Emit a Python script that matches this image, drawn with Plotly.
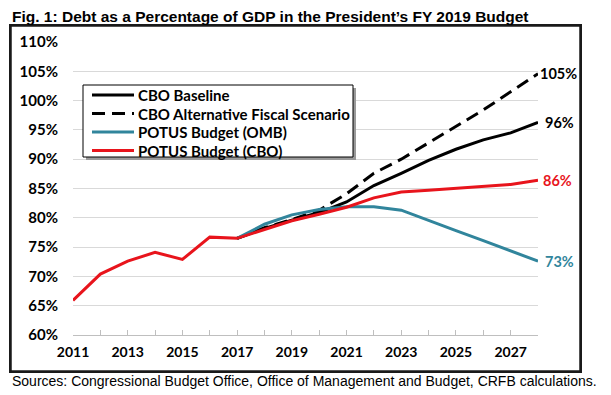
import plotly.graph_objects as go

years_hist = [2011, 2012, 2013, 2014, 2015, 2016, 2017]
years_proj = [2017, 2018, 2019, 2020, 2021, 2022, 2023, 2024, 2025, 2026, 2027, 2028]

hist = [65.9, 70.4, 72.6, 74.1, 72.9, 76.7, 76.5]
cbo_baseline = [76.5, 78.2, 79.6, 80.9, 82.7, 85.5, 87.6, 89.8, 91.7, 93.3, 94.5, 96.3]
cbo_alt = [76.5, 78.3, 79.7, 81.3, 84.1, 87.6, 90.0, 92.8, 95.6, 98.4, 101.5, 104.6]
potus_omb = [76.5, 78.9, 80.5, 81.4, 81.9, 81.9, 81.3, 79.5, 77.8, 76.1, 74.4, 72.6]
potus_cbo_proj = [78.0, 79.5, 80.6, 81.8, 83.4, 84.4, 84.7, 85.0, 85.3, 85.7, 86.4]

series_names = ["CBO Baseline", "CBO Alternative Fiscal Scenario", "POTUS Budget (OMB)", "POTUS Budget (CBO)"]
end_labels = ["105%", "96%", "86%", "73%"]

y_ticks = [60, 65, 70, 75, 80, 85, 90, 95, 100, 105, 110]
y_ticktext = [f"{v}%" for v in y_ticks]
x_ticks = [2011, 2013, 2015, 2017, 2019, 2021, 2023, 2025, 2027]

BLACK = "#000000"
TEAL = "#31859C"
RED = "#E8141C"
FONT = "Lato"
DASH = "13px,7px"

colors = [BLACK, BLACK, TEAL, RED]
dashes = ["solid", DASH, "solid", "solid"]

fig = go.Figure()
xs = [years_proj, years_proj, years_proj, years_hist + years_proj[1:]]
ys = [cbo_baseline, cbo_alt, potus_omb, hist + potus_cbo_proj]
for name, x, y, c, d in zip(series_names, xs, ys, colors, dashes):
    fig.add_trace(go.Scatter(x=x, y=y, mode="lines", name=name, showlegend=False,
                             line=dict(color=c, width=3, dash=d)))
# empty trace that carries the outer chart frame (second, full-size subplot)
fig.add_trace(go.Scatter(x=[None], y=[None], xaxis="x2", yaxis="y2", showlegend=False,
                         hoverinfo="skip", mode="lines"))

# The page has an 8px body margin; coordinates below are window pixels.
OFF = 8
FW, FH = 611 - OFF, 395 - OFF
# frame (paper area) in window px
FL, FR, FT, FB = 11, 580, 26, 371
# plot area in window px
L, R, T, B = 73, 538, 42, 335
PW, PH = FR - FL, FB - FT
px = lambda x: (x - FL) / PW
py = lambda y: (FB - y) / PH

FRAME = "#1a1a1a"
shapes = [
    # outer frame
    dict(type="rect", xref="paper", yref="paper", x0=0, x1=1, y0=0, y1=1,
         line=dict(color=FRAME, width=1.5), fillcolor="rgba(0,0,0,0)", layer="above"),
    # legend shadow + box
    dict(type="rect", xref="paper", yref="paper", x0=px(86), x1=px(356), y0=py(160), y1=py(88),
         line=dict(width=0), fillcolor="#9a9a9a", layer="above"),
    dict(type="rect", xref="paper", yref="paper", x0=px(83), x1=px(353), y0=py(157), y1=py(85),
         line=dict(color="black", width=1), fillcolor="white", layer="above"),
]

annotations = [
    dict(text="Fig. 1: Debt as a Percentage of GDP in the President\u2019s FY 2019 Budget",
         xref="paper", yref="paper", x=px(10), y=py(16), xanchor="left", yanchor="middle",
         showarrow=False, font=dict(family="Liberation Sans", size=15.5, color="black", weight="bold")),
    dict(text="Sources: Congressional Budget Office, Office of Management and Budget, CRFB calculations.",
         xref="paper", yref="paper", x=px(10), y=py(381), xanchor="left", yanchor="middle",
         showarrow=False, font=dict(family="Liberation Sans", size=14, color="black")),
]

# legend (drawn manually to match the reference spacing)
rows = [95, 113.5, 132, 150.5]
for name, c, d, r in zip(series_names, colors, dashes, rows):
    shapes.append(dict(type="line", xref="paper", yref="paper", x0=px(92), x1=px(134), y0=py(r), y1=py(r),
                       line=dict(color=c, width=3, dash=d), layer="above"))
    annotations.append(dict(text=name, xref="paper", yref="paper", x=px(136), y=py(r), xanchor="left",
                            yanchor="middle", showarrow=False,
                            font=dict(family=FONT, size=15, color="black", weight="bold")))

end_vals = [cbo_alt[-1], cbo_baseline[-1], potus_cbo_proj[-1], potus_omb[-1]]
end_cols = [BLACK, BLACK, RED, TEAL]
end_shift = [0, 5, 3, 5]
for lab, v, c, s in zip(end_labels, end_vals, end_cols, end_shift):
    annotations.append(dict(text=lab, x=years_proj[-1], y=v, xref="x", yref="y", xanchor="left",
                            yanchor="middle", xshift=s, showarrow=False,
                            font=dict(family=FONT, size=14.5, color=c, weight="bold")))

fig.update_layout(
    width=FW, height=FH,
    margin=dict(l=FL - OFF, r=FW - (FR - OFF), t=FT - OFF, b=FH - (FB - OFF), pad=0, autoexpand=False),
    paper_bgcolor="white", plot_bgcolor="rgba(0,0,0,0)",
    showlegend=False,
    shapes=shapes, annotations=annotations,
    xaxis=dict(domain=[px(L), px(R)], anchor="y", automargin=False,
               range=[2011, 2028], tickvals=x_ticks, ticktext=[str(v) for v in x_ticks],
               showgrid=False, zeroline=False, showline=True, linecolor="#bfbfbf", linewidth=1,
               ticks="inside", ticklen=5, tickcolor="#bfbfbf", ticklabelstandoff=4,
               minor=dict(dtick=1, tick0=2011, ticks="inside", ticklen=5, tickcolor="#bfbfbf", showgrid=False),
               tickfont=dict(family=FONT, size=14, color="black", weight="bold")),
    yaxis=dict(domain=[py(B), py(T)], anchor="x", automargin=False,
               range=[60, 110], tickvals=y_ticks, ticktext=y_ticktext, showgrid=True,
               gridcolor="#d9d9d9", gridwidth=1, zeroline=False, showline=False, ticks="",
               ticklabelstandoff=14,
               tickfont=dict(family=FONT, size=15, color="black", weight="bold")),
    xaxis2=dict(domain=[0, 1], anchor="y2", range=[0, 1], showgrid=False, zeroline=False,
                automargin=False, showticklabels=False, ticks="", showline=True, mirror=True,
                linecolor=FRAME, linewidth=1.5, fixedrange=True),
    yaxis2=dict(domain=[0, 1], anchor="x2", range=[0, 1], showgrid=False, zeroline=False,
                automargin=False, showticklabels=False, ticks="", showline=True, mirror=True,
                linecolor=FRAME, linewidth=1.5, fixedrange=True),
)

fig.write_html("out.html")
